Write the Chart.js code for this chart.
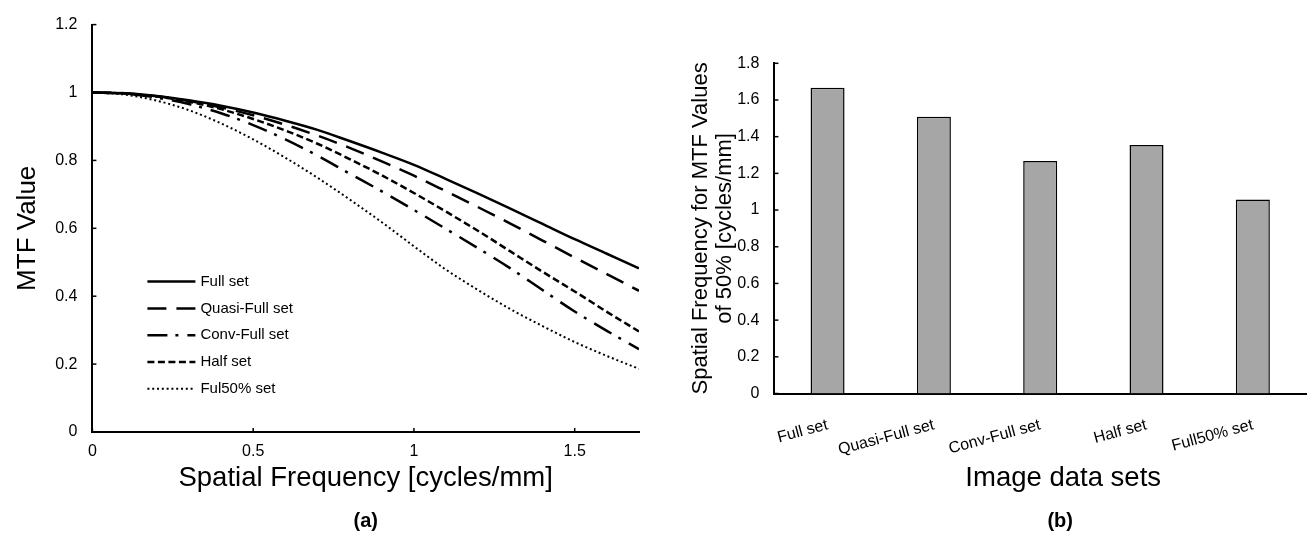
<!DOCTYPE html>
<html>
<head>
<meta charset="utf-8">
<script src="https://cdn.jsdelivr.net/npm/chart.js@4.4.1/dist/chart.umd.min.js"></script>
<style>
  html, body { margin: 0; padding: 0; background: #fff; }
  #wrap { position: relative; width: 1308px; height: 537px; overflow: hidden; }
  .box { position: absolute; top: 0; height: 537px; }
  #boxA { left: 0; width: 660px; }
  #boxB { left: 660px; width: 648px; }
</style>
</head>
<body>
<div id="wrap">
  <div class="box" id="boxA"><canvas id="mtfChart" width="660" height="537"></canvas></div>
  <div class="box" id="boxB"><canvas id="barChart" width="648" height="537"></canvas></div>
</div>
<script>
// (a) MTF curves
const freq = [0, 0.1, 0.2, 0.3, 0.4, 0.5, 0.6, 0.7, 0.8, 0.9, 1.0, 1.1, 1.2, 1.3, 1.4, 1.5, 1.6, 1.7];
const mtfFull    = [1.000, 0.998, 0.990, 0.977, 0.961, 0.941, 0.917, 0.890, 0.857, 0.823, 0.787, 0.745, 0.702, 0.658, 0.613, 0.568, 0.525, 0.482];
const mtfQuasi   = [1.000, 0.998, 0.989, 0.975, 0.956, 0.933, 0.905, 0.873, 0.837, 0.797, 0.755, 0.709, 0.662, 0.614, 0.564, 0.514, 0.465, 0.416];
const mtfConv    = [1.000, 0.997, 0.985, 0.966, 0.939, 0.904, 0.862, 0.814, 0.761, 0.709, 0.654, 0.598, 0.541, 0.482, 0.418, 0.355, 0.298, 0.244];
const mtfHalf    = [1.000, 0.997, 0.988, 0.973, 0.951, 0.922, 0.888, 0.849, 0.804, 0.756, 0.704, 0.649, 0.592, 0.532, 0.472, 0.414, 0.354, 0.296];
const mtfFul50   = [1.000, 0.994, 0.976, 0.948, 0.909, 0.862, 0.808, 0.749, 0.685, 0.618, 0.547, 0.478, 0.418, 0.362, 0.312, 0.265, 0.224, 0.186];
const curveNames = ['Full set', 'Quasi-Full set', 'Conv-Full set', 'Half set', 'Ful50% set'];

// (b) spatial frequency at MTF = 50%
const barLabels = ['Full set', 'Quasi-Full set', 'Conv-Full set', 'Half set', 'Full50% set'];
const mtf50Freq = [1.667, 1.509, 1.268, 1.354, 1.057];

const FONT = "'Liberation Sans', Arial, sans-serif";
Chart.defaults.font.family = FONT;
Chart.defaults.color = '#000';

const trimNum = v => String(+Number(v).toFixed(2));

// short tick marks drawn inside the plot, Excel style
const innerTicks = {
  id: 'innerTicks',
  afterDraw(chart, args, opts) {
    const ctx = chart.ctx;
    ctx.save();
    ctx.strokeStyle = '#000';
    ctx.lineWidth = 1.5;
    (opts.axes || []).forEach(id => {
      const s = chart.scales[id];
      s.ticks.forEach(t => {
        const p = s.getPixelForValue(t.value);
        ctx.beginPath();
        if (s.isHorizontal()) { ctx.moveTo(p, s.top); ctx.lineTo(p, s.top - 4); }
        else { ctx.moveTo(s.right, p); ctx.lineTo(s.right + 4, p); }
        ctx.stroke();
      });
    });
    ctx.restore();
  }
};

// legend inside the plot, using each dataset's own dash style
const lineKey = {
  id: 'lineKey',
  afterDatasetsDraw(chart, args, opts) {
    const { ctx, chartArea } = chart;
    const x0 = chartArea.left + opts.x;
    const y0 = chartArea.top + opts.y;
    ctx.save();
    ctx.font = opts.font;
    ctx.textBaseline = 'middle';
    ctx.fillStyle = '#000';
    chart.data.datasets.forEach((ds, i) => {
      const y = y0 + i * opts.rowGap;
      ctx.strokeStyle = '#000';
      ctx.lineWidth = ds.borderWidth;
      ctx.setLineDash(ds.borderDash || []);
      ctx.beginPath();
      ctx.moveTo(x0, y);
      ctx.lineTo(x0 + opts.lineLen, y);
      ctx.stroke();
      ctx.setLineDash([]);
      ctx.fillText(ds.label, x0 + opts.lineLen + 5, y);
    });
    ctx.restore();
  }
};

// centred captions under the plot (the figure sets them a bit right of the plot centre)
const captions = {
  id: 'captions',
  afterDraw(chart, args, opts) {
    const { ctx, chartArea } = chart;
    const cx = (chartArea.left + chartArea.right) / 2;
    ctx.save();
    ctx.fillStyle = '#000';
    ctx.textAlign = 'center';
    ctx.textBaseline = 'middle';
    opts.items.forEach(it => {
      ctx.font = it.font;
      ctx.fillText(it.text, cx + it.dx, it.y);
    });
    ctx.restore();
  }
};

const toPts = arr => arr.map((v, i) => ({ x: freq[i], y: v }));
const curve = (label, arr, dash, width) => ({
  label, data: toPts(arr),
  borderColor: '#000', borderWidth: width, borderDash: dash,
  pointRadius: 0, fill: false, cubicInterpolationMode: 'monotone'
});

new Chart(document.getElementById('mtfChart'), {
  type: 'line',
  data: {
    datasets: [
      curve(curveNames[0], mtfFull, [], 2.5),
      curve(curveNames[1], mtfQuasi, [19, 10], 2.5),
      curve(curveNames[2], mtfConv, [20, 8, 3, 9], 2.5),
      curve(curveNames[3], mtfHalf, [7, 3.5], 2.5),
      curve(curveNames[4], mtfFul50, [2, 2.8], 2)
    ]
  },
  options: {
    responsive: false,
    animation: false,
    layout: { padding: { top: 20.7, right: 21, left: 12.4, bottom: 0 } },
    plugins: {
      legend: { display: false },
      tooltip: { enabled: false },
      title: {
        display: true, text: '(a)', position: 'bottom', fullSize: false,
        font: { size: 20, weight: 'bold' }, padding: { top: 14.5, bottom: 4 }
      },
      innerTicks: { axes: ['x', 'y'] },
      lineKey: { x: 55, y: 257, rowGap: 26.8, lineLen: 48, font: '15px ' + FONT }
    },
    scales: {
      x: {
        type: 'linear', min: 0, max: 1.7,
        grid: { display: false, drawTicks: false },
        border: { color: '#000', width: 2 },
        ticks: { stepSize: 0.5, includeBounds: false, padding: 10, font: { size: 16 }, callback: trimNum },
        title: { display: true, text: 'Spatial Frequency [cycles/mm]', font: { size: 27.5 }, padding: 0 },
        afterFit: s => { s.height = 62.5; }
      },
      y: {
        min: 0, max: 1.2,
        grid: { display: false, drawTicks: false },
        border: { color: '#000', width: 2 },
        ticks: { stepSize: 0.2, padding: 15, font: { size: 16 }, callback: trimNum },
        title: { display: true, text: 'MTF Value', font: { size: 26 }, padding: 0 },
        afterFit: s => { s.width = 80; }
      }
    }
  },
  plugins: [innerTicks, lineKey]
});

new Chart(document.getElementById('barChart'), {
  type: 'bar',
  data: {
    labels: barLabels,
    datasets: [{
      data: mtf50Freq,
      backgroundColor: '#a6a6a6',
      borderColor: '#000',
      borderWidth: 1.5,
      barPercentage: 0.32,
      categoryPercentage: 1
    }]
  },
  options: {
    responsive: false,
    animation: false,
    layout: { padding: { top: 63.3, right: 2, left: 28.5, bottom: 42.5 } },
    plugins: {
      legend: { display: false },
      tooltip: { enabled: false },
      innerTicks: { axes: ['y'] },
      captions: {
        items: [
          { text: 'Image data sets', font: '27.5px ' + FONT, dx: 23, y: 478 },
          { text: '(b)', font: 'bold 20px ' + FONT, dx: 20, y: 521 }
        ]
      }
    },
    scales: {
      x: {
        grid: { display: false, drawTicks: false },
        border: { color: '#000', width: 2 },
        ticks: { minRotation: 15, maxRotation: 15, padding: 22, font: { size: 16 } },
        afterFit: s => { s.height = 101; }
      },
      y: {
        min: 0, max: 1.8,
        grid: { display: false, drawTicks: false },
        border: { color: '#000', width: 2 },
        ticks: { stepSize: 0.2, padding: 15, font: { size: 16 }, callback: trimNum },
        title: {
          display: true,
          text: ['Spatial Frequency for MTF Values', 'of 50% [cycles/mm]'],
          font: { size: 22, lineHeight: 1.1 }, padding: 0
        },
        afterFit: s => { s.width = 85.9; }
      }
    }
  },
  plugins: [innerTicks, captions]
});
</script>
</body>
</html>
